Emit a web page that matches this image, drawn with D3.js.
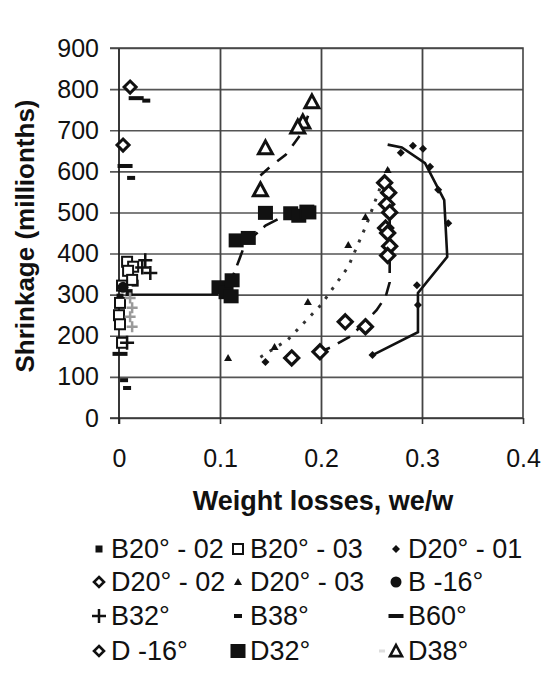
<!DOCTYPE html>
<html>
<head>
<meta charset="utf-8">
<script src="https://cdn.jsdelivr.net/npm/d3@7"></script>
<style>
  body { margin: 0; background: #fff; }
  text { font-family: "Liberation Sans", Arial, sans-serif; fill: #111; }
</style>
</head>
<body>
<div id="container"></div>
<script>
/* CONSTANTS AND GLOBALS */
const width = 545, height = 676;
const plot = { left: 110, right: 523, top: 48, bottom: 418 };

/* DATA */
const xTicks = [0, 0.1, 0.2, 0.3, 0.4];
const yTicks = [0, 100, 200, 300, 400, 500, 600, 700, 800, 900];

const b20_02_x = [0.001, 0.016, 0.010];
const b20_02_y = [294, 328, 305];
const b20_03_x = [0.008, 0.014, 0.009, 0.013, 0.003, 0.001, 0.000, 0.001, 0.003];
const b20_03_y = [380, 368, 358, 336, 322, 280, 250, 228, 183];
const d20_01_x = [0.145, 0.251, 0.296, 0.295, 0.326, 0.316, 0.308, 0.279, 0.291, 0.301];
const d20_01_y = [136, 153, 275, 323, 474, 555, 611, 645, 662, 655];
const d20_02_x = [0.171, 0.199, 0.224, 0.244, 0.263, 0.267, 0.265, 0.268, 0.264, 0.266, 0.268, 0.266];
const d20_02_y = [146, 161, 234, 222, 572, 548, 520, 500, 462, 450, 418, 395];
const d20_03_x = [0.108, 0.154, 0.187, 0.227, 0.244, 0.262, 0.266];
const d20_03_y = [146, 173, 282, 421, 489, 575, 603];
const bm16_x = [0.004];
const bm16_y = [318];
const b32_x = [0.026, 0.023, 0.031, 0.008];
const b32_y = [384, 366, 353, 183];
const b38_x = [0.027, 0.012, 0.005, 0.008];
const b38_y = [772, 584, 92, 73];
const b60_x = [0.017, 0.006, 0.001];
const b60_y = [778, 613, 156];
const dm16_x = [0.011, 0.004];
const dm16_y = [805, 664];
const d32_x = [0.099, 0.106, 0.111, 0.112, 0.116, 0.128, 0.145, 0.170, 0.178, 0.186, 0.188];
const d32_y = [318, 306, 296, 335, 432, 438, 499, 498, 492, 502, 500];
const d38_x = [0.191, 0.182, 0.177, 0.145, 0.140];
const d38_y = [769, 720, 708, 657, 555];
const grey_x = [0.011, 0.013, 0.011, 0.013];
const grey_y = [292, 268, 246, 222];

// trend lines
const trendD20_01 = [[0.251, 153], [0.296, 209], [0.296, 304], [0.325, 392], [0.322, 530], [0.303, 620], [0.28, 658], [0.266, 665]];
const trendD20_02 = [[0.196, 158], [0.21, 172], [0.23, 200], [0.255, 262], [0.264, 295], [0.268, 330], [0.268, 575]];
const trendD20_03 = [[0.14, 148], [0.167, 190], [0.2, 275], [0.227, 368], [0.245, 470], [0.26, 570], [0.27, 625]];
const trendD32a = [[0.012, 300], [0.098, 300]];
const trendD32b = [[0.106, 320], [0.112, 340], [0.119, 385], [0.125, 425], [0.145, 468], [0.16, 487], [0.18, 497]];
const trendD38 = [[0.14, 590], [0.15, 612], [0.165, 640], [0.18, 690], [0.192, 765]];

const legendNames = ["B20° - 02", "B20° - 03", "D20° - 01", "D20° - 02", "D20° - 03", "B -16°",
  "B32°", "B38°", "B60°", "D -16°", "D32°", "D38°"];
const legendShapes = ["sqFill", "sqOpen", "diaFill", "diaOpenL", "triFill", "circle",
  "plus", "dashS", "dashL", "diaOpenL", "sqBig", "triOpenL"];

const series = [
  { shape: "sqFill", xs: b20_02_x, ys: b20_02_y },
  { shape: "sqOpen", xs: b20_03_x, ys: b20_03_y },
  { shape: "circle", xs: bm16_x, ys: bm16_y },
  { shape: "greyPlus", xs: grey_x, ys: grey_y },
  { shape: "plus", xs: b32_x, ys: b32_y },
  { shape: "dashS", xs: b38_x, ys: b38_y },
  { shape: "dashL", xs: b60_x, ys: b60_y },
  { shape: "diaOpenS", xs: dm16_x, ys: dm16_y },
  { shape: "diaFill", xs: d20_01_x, ys: d20_01_y },
  { shape: "triFill", xs: d20_03_x, ys: d20_03_y },
  { shape: "diaOpen", xs: d20_02_x, ys: d20_02_y },
  { shape: "sqBig", xs: d32_x, ys: d32_y },
  { shape: "triOpen", xs: d38_x, ys: d38_y }
];

/* SCALES */
const xScale = d3.scaleLinear().domain([0, 0.4]).range([119, plot.right]);
const yScale = d3.scaleLinear().domain([0, 900]).range([plot.bottom, plot.top]);

/* HTML ELEMENTS */
const svg = d3.select("#container")
  .append("svg")
  .attr("width", width)
  .attr("height", height)
  .style("background", "#fff");

// horizontal gridlines + y labels
const yAxis = d3.axisLeft(yScale).tickValues(yTicks)
  .tickSize(-(plot.right - plot.left)).tickPadding(11);
svg.append("g")
  .attr("transform", `translate(${plot.left},0)`)
  .call(yAxis)
  .call(g => g.select(".domain").remove())
  .call(g => g.selectAll("line").attr("stroke", "#555").attr("stroke-width", 1.6))
  .call(g => g.selectAll("text").style("font-size", "25px")
    .style("font-family", "'Liberation Sans', Arial, sans-serif").attr("fill", "#111"));

// vertical gridlines
svg.append("g")
  .attr("transform", `translate(0,${plot.bottom})`)
  .call(d3.axisBottom(xScale).tickValues([0.1, 0.2, 0.3]).tickSize(-(plot.bottom - plot.top)).tickFormat(""))
  .call(g => g.select(".domain").remove())
  .call(g => g.selectAll("line").attr("stroke", "#444").attr("stroke-width", 1.8));

// x axis
svg.append("g")
  .attr("transform", `translate(0,${plot.bottom})`)
  .call(d3.axisBottom(xScale).tickValues(xTicks).tickSize(6).tickPadding(25)
    .tickFormat(d => d === 0 ? "0" : d3.format(".1f")(d)))
  .call(g => g.select(".domain").attr("d", `M${plot.left},0H${plot.right}`).attr("stroke", "#333").attr("stroke-width", 1.6))
  .call(g => g.selectAll("line").attr("stroke", "#333").attr("stroke-width", 1.6))
  .call(g => g.selectAll("text").style("font-size", "25px")
    .style("font-family", "'Liberation Sans', Arial, sans-serif").attr("fill", "#111"));

// y axis line and plot border
svg.append("line")
  .attr("x1", xScale(0)).attr("x2", xScale(0))
  .attr("y1", plot.top).attr("y2", plot.bottom + 6)
  .attr("stroke", "#222").attr("stroke-width", 1.8);
svg.append("path")
  .attr("d", `M${plot.left},${plot.top}H${plot.right}V${plot.bottom}`)
  .attr("fill", "none").attr("stroke", "#444").attr("stroke-width", 1.6);

// trend lines
const line = d3.line().x(d => xScale(d[0])).y(d => yScale(d[1]));
const trends = [
  { pts: trendD20_01, dash: null, color: "#111", w: 2.6 },
  { pts: trendD20_02, dash: "14,9", color: "#111", w: 2.6 },
  { pts: trendD20_03, dash: "3,8", color: "#333", w: 3 },
  { pts: trendD32a, dash: null, color: "#111", w: 2.4 },
  { pts: trendD32b, dash: "16,8", color: "#111", w: 2.6 },
  { pts: trendD38, dash: "12,10", color: "#111", w: 2.6 }
];
svg.append("g").selectAll("path")
  .data(trends)
  .join("path")
  .attr("d", d => line(d.pts))
  .attr("fill", "none")
  .attr("stroke", d => d.color)
  .attr("stroke-width", d => d.w)
  .attr("stroke-dasharray", d => d.dash);

// marker drawing
function diamond(g, cx, cy, r, sw) {
  g.append("path").attr("d", `M${cx},${cy - r}L${cx + r},${cy}L${cx},${cy + r}L${cx - r},${cy}Z`)
    .attr("fill", "#fff").attr("stroke", "#111").attr("stroke-width", sw);
}
function triangle(g, cx, cy, r, sw) {
  g.append("path").attr("d", `M${cx},${cy - r}L${cx + r},${cy + r * 0.85}L${cx - r},${cy + r * 0.85}Z`)
    .attr("fill", "#fff").attr("stroke", "#111").attr("stroke-width", sw);
}
function drawMarker(g, shape, cx, cy) {
  const k = "#111";
  switch (shape) {
    case "sqFill":
      g.append("rect").attr("x", cx - 3.5).attr("y", cy - 3.5).attr("width", 7).attr("height", 7).attr("fill", k); break;
    case "sqOpen":
      g.append("rect").attr("x", cx - 5).attr("y", cy - 5).attr("width", 10).attr("height", 10)
        .attr("fill", "#fff").attr("stroke", k).attr("stroke-width", 2); break;
    case "sqBig":
      g.append("rect").attr("x", cx - 7.5).attr("y", cy - 7).attr("width", 15).attr("height", 14).attr("fill", k); break;
    case "diaFill":
      g.append("path").attr("d", `M${cx},${cy - 4}L${cx + 4},${cy}L${cx},${cy + 4}L${cx - 4},${cy}Z`).attr("fill", k); break;
    case "diaOpen": diamond(g, cx, cy, 7, 3.2); break;
    case "diaOpenS": diamond(g, cx, cy, 6, 3); break;
    case "diaOpenL": diamond(g, cx, cy, 5, 2.6); break;
    case "triFill":
      g.append("path").attr("d", `M${cx},${cy - 4}L${cx + 4},${cy + 3}L${cx - 4},${cy + 3}Z`).attr("fill", k); break;
    case "triOpen": triangle(g, cx, cy, 7, 3); break;
    case "triOpenL": triangle(g, cx, cy, 6, 2.6); break;
    case "circle":
      g.append("circle").attr("cx", cx).attr("cy", cy).attr("r", 5.5).attr("fill", k); break;
    case "plus":
    case "greyPlus": {
      const c = shape === "plus" ? k : "#9a9a9a", r = shape === "plus" ? 7 : 5.5;
      g.append("path").attr("d", `M${cx - r},${cy}H${cx + r}M${cx},${cy - r}V${cy + r}`)
        .attr("stroke", c).attr("stroke-width", 2.5).attr("fill", "none"); break;
    }
    case "dashS":
      g.append("rect").attr("x", cx - 4).attr("y", cy - 2).attr("width", 8).attr("height", 4).attr("fill", k); break;
    case "dashL":
      g.append("rect").attr("x", cx - 7.5).attr("y", cy - 2).attr("width", 15).attr("height", 4).attr("fill", k); break;
    case "faint":
      g.append("rect").attr("x", cx - 3).attr("y", cy - 1.5).attr("width", 6).attr("height", 3).attr("fill", "#ddd"); break;
  }
}

// markers
const markers = svg.append("g");
series.forEach(s => {
  s.xs.forEach((xv, i) => drawMarker(markers, s.shape, xScale(xv), yScale(s.ys[i])));
});

/* TITLES */
svg.append("text")
  .attr("transform", "translate(34,236) rotate(-90)")
  .attr("text-anchor", "middle")
  .style("font-size", "26px").style("font-weight", "bold")
  .text("Shrinkage (millionths)");

svg.append("text")
  .attr("x", 323).attr("y", 510)
  .attr("text-anchor", "middle")
  .style("font-size", "27px").style("font-weight", "bold")
  .text("Weight losses, we/w");

/* LEGEND */
const colText = [111, 250, 408];
const rowY = [549, 582, 616, 651];
const legend = svg.append("g");
legendNames.forEach((name, i) => {
  const col = i % 3, row = Math.floor(i / 3);
  const cy = rowY[row];
  const tx = colText[col];
  if (name === "D38°") drawMarker(legend, "faint", tx - 26, cy);
  drawMarker(legend, legendShapes[i], tx - 12, cy);
  legend.append("text")
    .attr("x", tx).attr("y", cy + 9)
    .style("font-size", "27px")
    .text(name);
});
</script>
</body>
</html>
